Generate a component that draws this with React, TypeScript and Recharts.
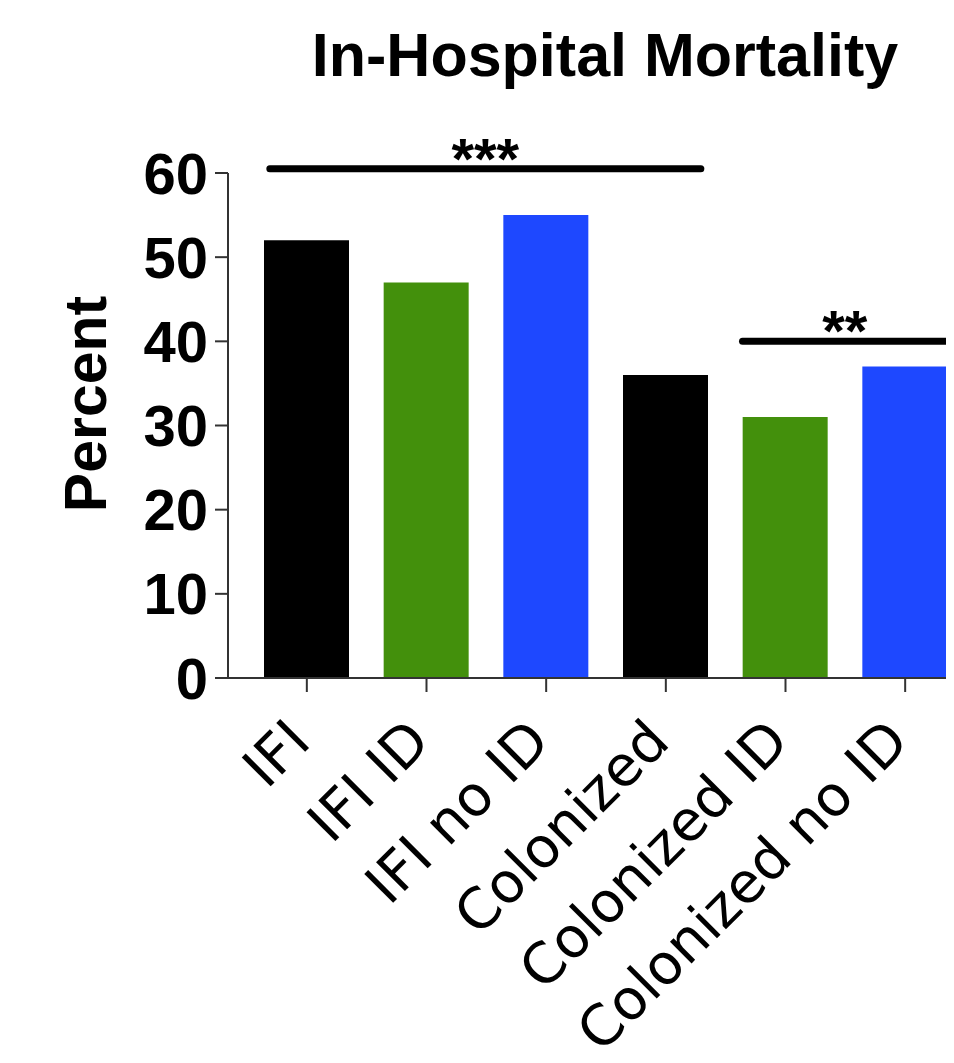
import React from 'react';
import { BarChart, Bar, XAxis, YAxis, Cell, ReferenceLine, Customized } from 'recharts';

const categories = ['IFI', 'IFI ID', 'IFI no ID', 'Colonized', 'Colonized ID', 'Colonized no ID'];
const mortality = [52, 47, 55, 36, 31, 37];
const barColors = ['#000000', '#43900C', '#1E48FF', '#000000', '#43900C', '#1E48FF'];
const yTicks = [0, 10, 20, 30, 40, 50, 60];
const sigFrom = ['IFI', 'Colonized ID'];
const sigTo = ['Colonized', 'Colonized no ID'];
const sigLevel = [60.5, 40];
const sigLabel = ['***', '**'];

const chartData = categories.map((name, i) => ({ name, value: mortality[i] }));

const FONT = '"Liberation Sans", Arial, Helvetica, sans-serif';
const TICK_FONT = '"DejaVu Sans", Verdana, sans-serif';
const sigExtend = [
  { l: 37, r: 35 },
  { l: 43, r: 42 },
];

const XTick = (props: any) => {
  const { x, y, payload } = props;
  return (
    <g transform={`translate(${x},${y})`}>
      <text
        transform="translate(6,52) rotate(-45)"
        textAnchor="end"
        fontSize={56}
        fontFamily={TICK_FONT}
        fill="#000"
      >
        {payload.value}
      </text>
    </g>
  );
};

const makeBracket = (i: number) => (props: any) => {
  const { x1, y1, x2 } = props;
  const ext = sigExtend[i];
  const a = Number(x1) - ext.l;
  const b = Number(x2) + ext.r;
  return (
    <g>
      <line x1={a} y1={y1} x2={b} y2={y1} stroke="#000" strokeWidth={7} strokeLinecap="round" />
      <text
        x={(a + b) / 2}
        y={Number(y1) + 10}
        textAnchor="middle"
        fontSize={58}
        fontWeight="bold"
        fontFamily={FONT}
        fill="#000"
      >
        {sigLabel[i]}
      </text>
    </g>
  );
};

const Title = () => (
  <text x={597} y={68} textAnchor="middle" fontSize={61} fontWeight="bold" fontFamily={FONT} fill="#000">
    In-Hospital Mortality
  </text>
);

const PercentLabel = () => (
  <text
    transform="translate(98,396) rotate(-90)"
    textAnchor="middle"
    fontSize={59}
    fontWeight="bold"
    fontFamily={FONT}
    fill="#000"
  >
    Percent
  </text>
);

export default function App() {
  return (
    <div style={{ width: 946, height: 1047, overflow: 'hidden', background: '#fff' }}>
      <BarChart
        width={957}
        height={1055}
        data={chartData}
        margin={{ top: 165, right: 0, bottom: 0, left: 0 }}
      >
        <Customized component={Title} />
        <XAxis
          dataKey="name"
          interval={0}
          padding={{ left: 19, right: 0 }}
          height={385}
          tickSize={14}
          tickMargin={0}
          tick={<XTick />}
          axisLine={{ stroke: '#333', strokeWidth: 2 }}
          tickLine={{ stroke: '#333', strokeWidth: 2 }}
        />
        <YAxis
          width={220}
          domain={[0, 60]}
          ticks={yTicks}
          interval={0}
          tickSize={13}
          tickMargin={7}
          axisLine={{ stroke: '#333', strokeWidth: 2 }}
          tickLine={{ stroke: '#333', strokeWidth: 2 }}
          tick={{ fontSize: 58, fontWeight: 'bold', fontFamily: FONT, fill: '#000' }}
          label={{ content: () => <PercentLabel /> }}
        />
        <Bar dataKey="value" barSize={85} isAnimationActive={false}>
          {chartData.map((d, i) => (
            <Cell key={d.name} fill={barColors[i]} />
          ))}
        </Bar>
        {sigFrom.map((f, i) => (
          <ReferenceLine
            key={f}
            ifOverflow="visible"
            segment={[
              { x: f, y: sigLevel[i] },
              { x: sigTo[i], y: sigLevel[i] },
            ]}
            shape={makeBracket(i)}
          />
        ))}
      </BarChart>
    </div>
  );
}
